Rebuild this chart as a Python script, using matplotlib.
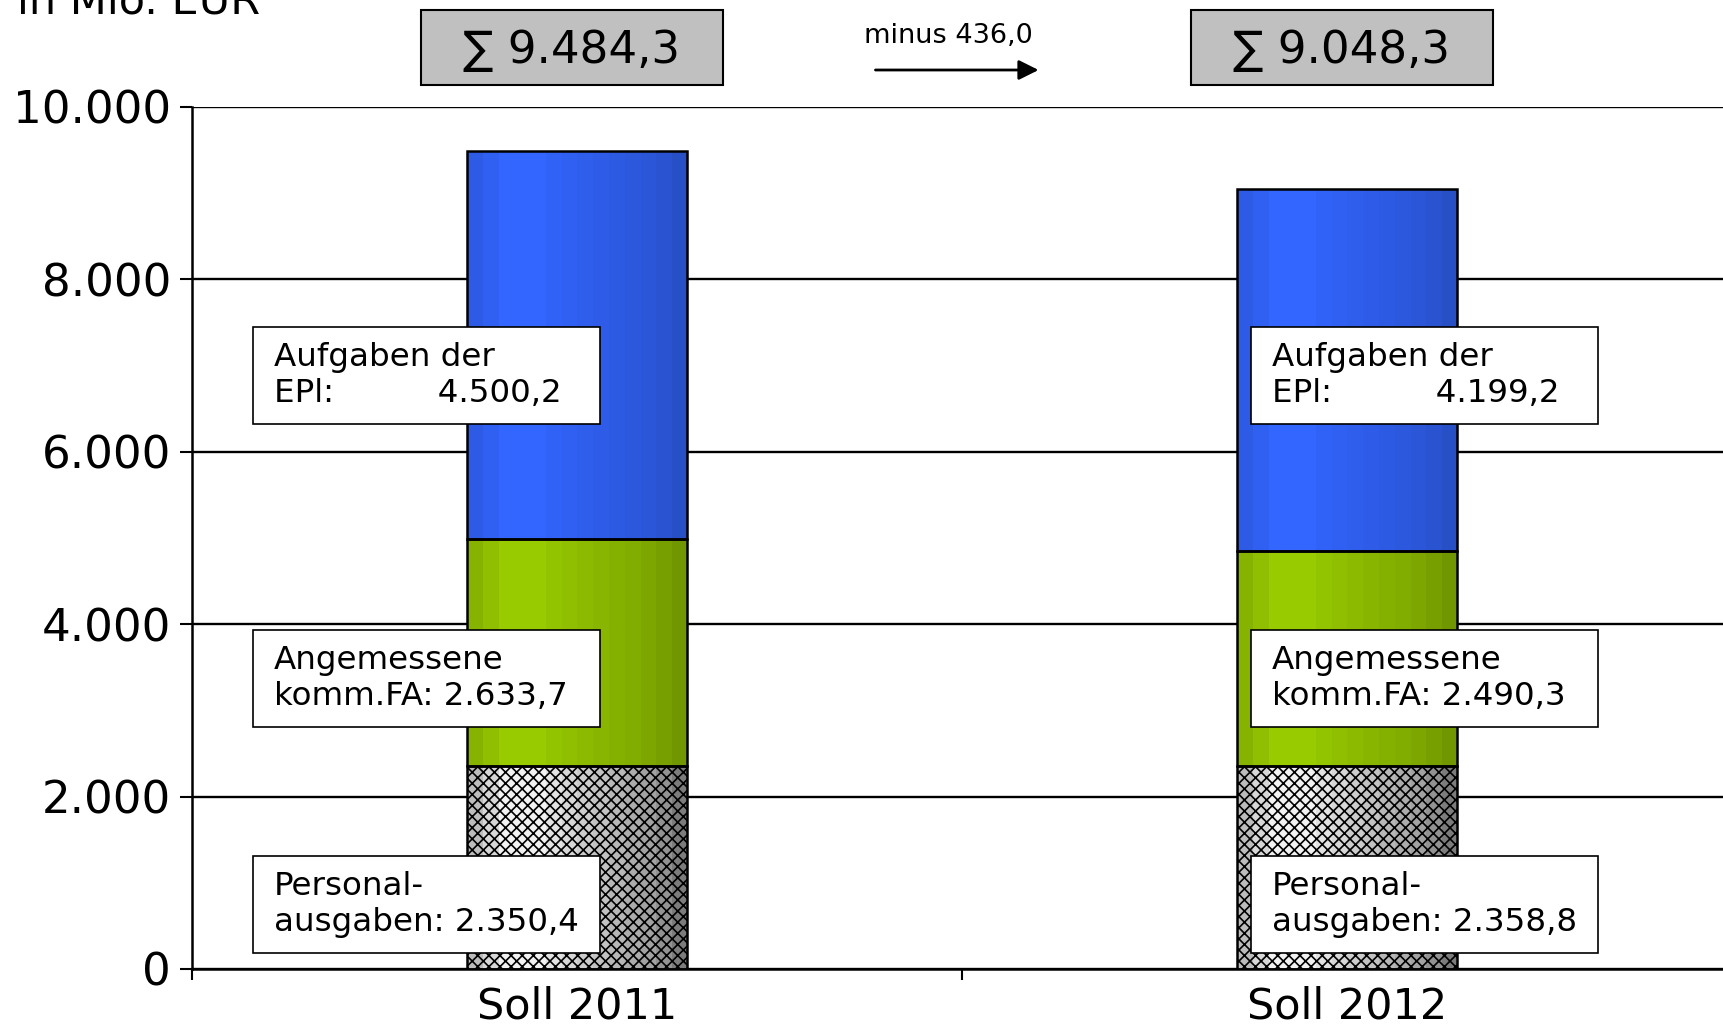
import matplotlib
matplotlib.use("Agg")
import matplotlib.pyplot as plt
import matplotlib.transforms as mtransforms
from matplotlib.patches import Rectangle
import numpy as np

# Haushalt in Mio. EUR
categories = ["Soll 2011", "Soll 2012"]
personal = [2350.4, 2358.8]
angemessene = [2633.7, 2490.3]
aufgaben_epl = [4500.2, 4199.2]
yticks = [0, 2000, 4000, 6000, 8000, 10000]


def de(v, dec=1):
    # german number format: 9.484,3
    s = f"{v:,.{dec}f}"
    return s.replace(",", "#").replace(".", ",").replace("#", ".")


plt.rcParams['font.family'] = ['DejaVu Sans']
plt.rcParams['hatch.linewidth'] = 1.2

W, H = 1724, 1036
fig = plt.figure(figsize=(W / 100, H / 100), dpi=100)
ax = fig.add_axes([192 / W, 1 - 969 / H, 1540 / W, 862 / H])

# horizontal shading of the columns (dark edge, bright left third, darker right)
shade = np.array([0.9, 0.95, 1.0, 1.0, 1.0, 0.97, 0.95, 0.93, 0.91, 0.89, 0.87, 0.85, 0.82, 0.78])


def block(x0, x1, y0, y1, base, depth=1.0, hatch=None):
    f = 1 - (1 - shade) * depth
    rgb = np.clip(np.outer(f, base), 0, 1)[None, :, :]
    ax.imshow(rgb, extent=[x0, x1, y0, y1], aspect='auto',
              interpolation='nearest', zorder=2)
    ax.add_patch(Rectangle((x0, y0), x1 - x0, y1 - y0, facecolor='none',
                           edgecolor='black', lw=1.8, hatch=hatch, zorder=3))


blue = np.array([0x33, 0x66, 0xff]) / 255
green = np.array([0x99, 0xcc, 0x00]) / 255
grey = np.array([0xf2, 0xf2, 0xf2]) / 255

x = np.arange(len(categories)) + 0.5
bw = 0.287
for i in range(len(categories)):
    x0, x1 = x[i] - bw / 2, x[i] + bw / 2
    b1 = personal[i]
    b2 = b1 + angemessene[i]
    b3 = b2 + aufgaben_epl[i]
    block(x0, x1, 0, b1, grey, depth=2.2, hatch='xxx')
    block(x0, x1, b1, b2, green, depth=1.2)
    block(x0, x1, b2, b3, blue, depth=1.0)

# value boxes next to the columns
box_x = [0.079, 1.375]
box_w = 0.451
box_y = {'personal': (186, 1311), 'angemessene': (2807, 3933), 'aufgaben': (6323, 7448)}
for i in range(len(categories)):
    labels = {
        'personal': "Personal-\nausgaben: " + de(personal[i]),
        'angemessene': "Angemessene\nkomm.FA: " + de(angemessene[i]),
        'aufgaben': "Aufgaben der\nEPl:" + " " * 10 + de(aufgaben_epl[i]),
    }
    for key, (y0, y1) in box_y.items():
        ax.add_patch(Rectangle((box_x[i], y0), box_w, y1 - y0, facecolor='white',
                               edgecolor='black', lw=1.2, zorder=4))
        ax.text(box_x[i] + 0.027, (y0 + y1) / 2, labels[key], fontsize=23.4,
                ha='left', va='center', zorder=5)

# totals above the columns
trans = mtransforms.blended_transform_factory(ax.transData, fig.transFigure)
totals = [personal[i] + angemessene[i] + aufgaben_epl[i] for i in range(len(categories))]
for i in range(len(categories)):
    ax.add_patch(Rectangle((x[i] - 0.203, 1 - 85 / H), 0.392, 75 / H, transform=trans,
                           facecolor='#c0c0c0', edgecolor='black', lw=1.5, clip_on=False))
    ax.text(x[i] - 0.007, 1 - 50 / H, "\u2211 " + de(totals[i]), transform=trans,
            fontsize=32.5, ha='center', va='center')

ax.annotate('', xy=(1.103, 1 - 70 / H), xytext=(0.884, 1 - 70 / H),
            xycoords=trans, textcoords=trans, annotation_clip=False,
            arrowprops=dict(arrowstyle='-|>', mutation_scale=30, lw=2, color='black'))
ax.text(0.982, 1 - 36 / H, "minus " + de(totals[0] - totals[1]), transform=trans,
        fontsize=19.5, ha='center', va='center')

fig.text(17 / W, 1 - 14 / H, "in Mio. EUR", fontsize=31, ha='left', va='baseline')

ax.set_xlim(0, 2)
ax.set_ylim(0, 10000)
ax.set_yticks(yticks)
ax.set_yticklabels([de(v, 0) for v in yticks], fontsize=32.5)
ax.tick_params(axis='y', length=9, width=1.5, pad=6)
ax.yaxis.grid(True, color='black', lw=1.7)
ax.set_axisbelow(True)

ax.set_xticks([0, 1, 2])
ax.set_xticklabels([])
ax.set_xticks(x, minor=True)
ax.set_xticklabels(categories, minor=True, fontsize=31)
ax.tick_params(axis='x', which='major', length=8, width=1.5, direction='out')
ax.tick_params(axis='x', which='minor', length=0, pad=12)

for s in ['top', 'right']:
    ax.spines[s].set_visible(False)
for s in ['left', 'bottom']:
    ax.spines[s].set_linewidth(1.8)

fig.savefig('out.png', dpi=100)
